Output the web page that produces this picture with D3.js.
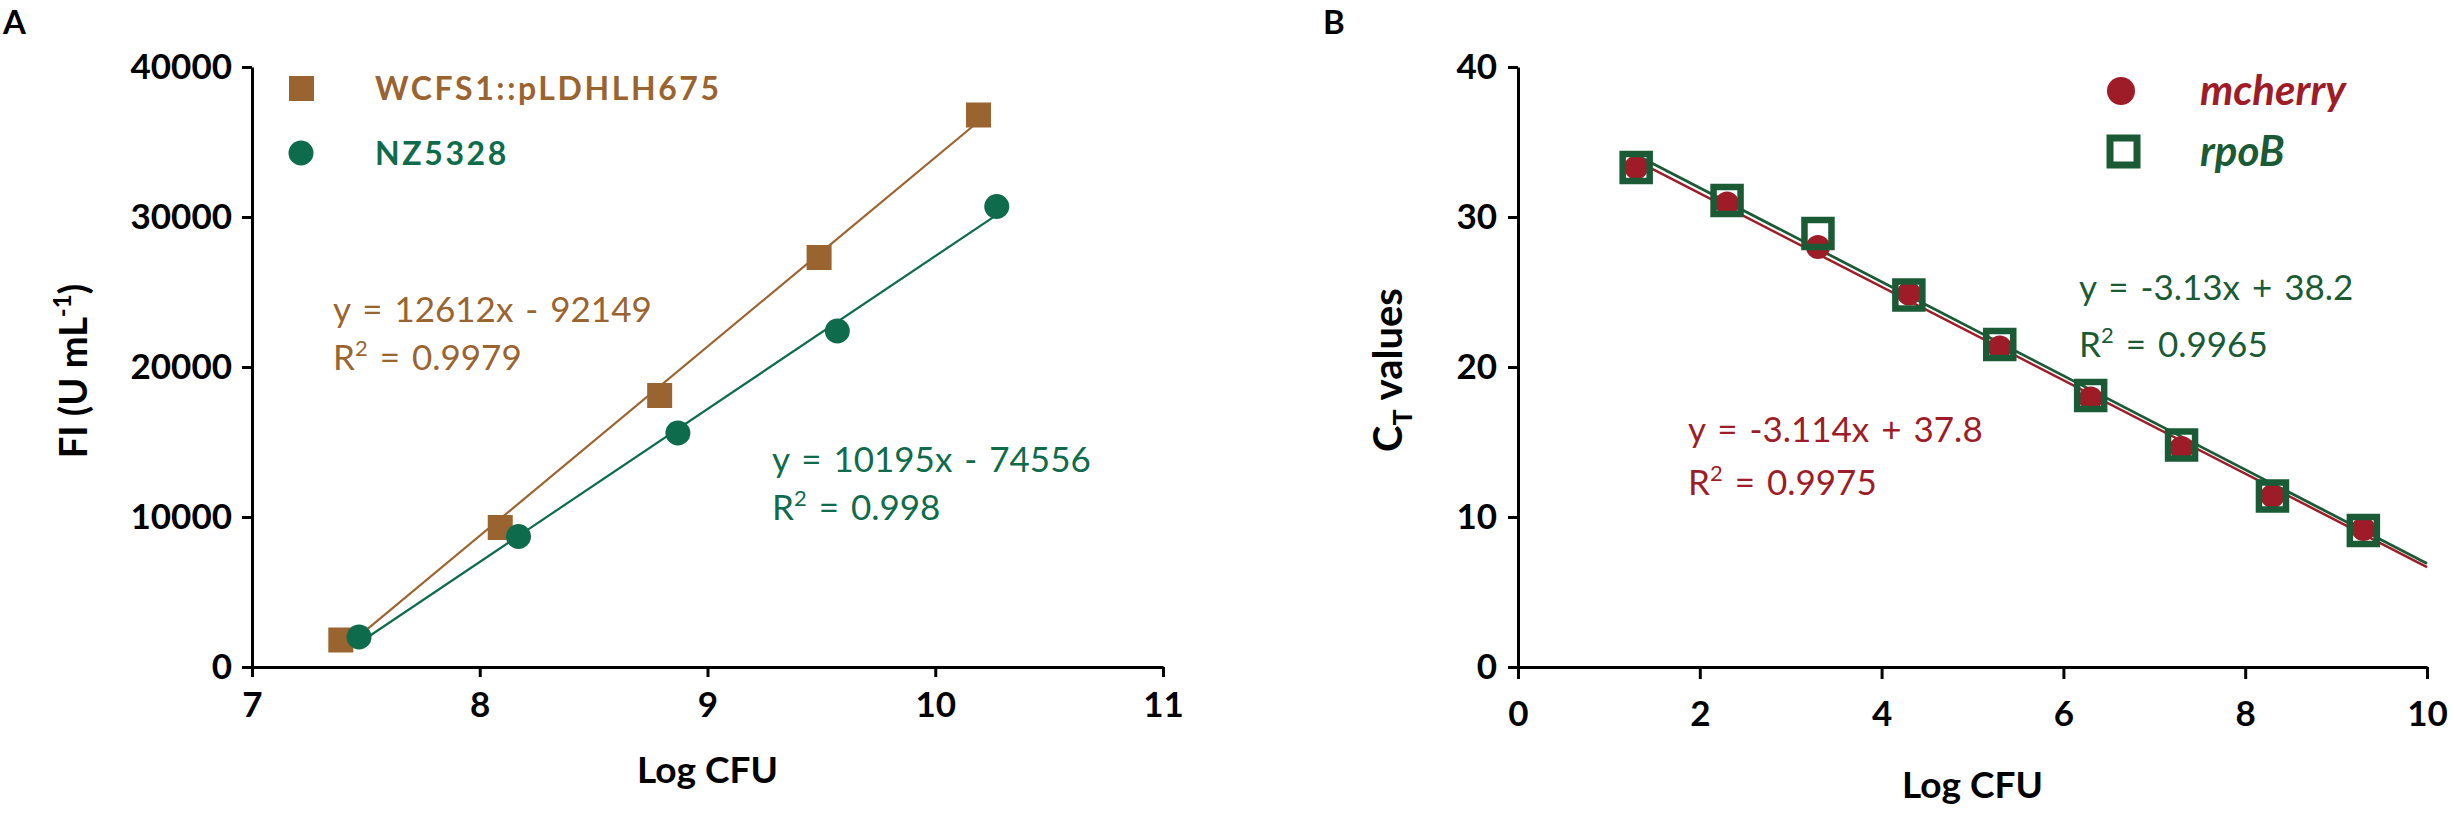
<!DOCTYPE html>
<html>
<head>
<meta charset="utf-8">
<script src="https://cdn.jsdelivr.net/npm/d3@7"></script>
<style>
  body { margin: 0; background: #fff; }
  text { font-family: Lato, "Open Sans", sans-serif; }
</style>
</head>
<body>
<div id="chart"></div>
<script>
// panel A: fluorescence vs log CFU
const logCfuWcfs = [7.39, 8.09, 8.79, 9.49, 10.19];
const fiWcfs = [1800, 9300, 18100, 27300, 36800];
const logCfuNz = [7.47, 8.17, 8.87, 9.57, 10.27];
const fiNz = [2000, 8700, 15600, 22400, 30700];
const fitWcfs = [12612, -92149];   // slope, intercept
const fitNz = [10195, -74556];

// panel B: qPCR CT values vs log CFU
const logCfuQpcr = [1.3, 2.3, 3.3, 4.3, 5.3, 6.3, 7.3, 8.3, 9.3];
const ctMcherry = [33.3, 30.9, 28.0, 24.9, 21.3, 17.9, 14.6, 11.4, 9.2];
const ctRpoB = [33.3, 31.1, 28.9, 24.8, 21.5, 18.1, 14.8, 11.4, 9.1];
const fitMcherry = [-3.114, 37.8];
const fitRpoB = [-3.13, 38.2];

const ticksAx = [7, 8, 9, 10, 11];
const ticksAy = [0, 10000, 20000, 30000, 40000];
const ticksBx = [0, 2, 4, 6, 8, 10];
const ticksBy = [0, 10, 20, 30, 40];

const brown = "#9a6430", greenA = "#0e6b4b", red = "#9e1c27", greenB = "#1a5b36";

const width = 2452, height = 813;
const svg = d3.select("#chart").append("svg")
  .attr("width", width).attr("height", height);

function styleAxis(g) {
  g.selectAll("path, line").attr("stroke", "#000").attr("stroke-width", 3);
  g.selectAll("text").attr("font-family", "Lato").attr("font-weight", "bold")
    .attr("font-size", 35).attr("fill", "#000");
}

function eqLabel(x, y, color, eq, r2, gap) {
  const t = svg.append("g").attr("fill", color).attr("font-size", 35);
  t.append("text").attr("x", x).attr("y", y).attr("word-spacing", 3).text(eq);
  const r = t.append("text").attr("x", x).attr("y", y + gap).attr("word-spacing", 3);
  r.append("tspan").text("R");
  r.append("tspan").attr("dy", -14).attr("font-size", 22).text("2");
  r.append("tspan").attr("dy", 14).text(" = " + r2);
}

// ---------- Panel A ----------
const xA = d3.scaleLinear().domain([7, 11]).range([252, 1163]);
const yA = d3.scaleLinear().domain([0, 40000]).range([667, 67]);

svg.append("g").attr("transform", `translate(0,${yA(0)})`)
  .call(d3.axisBottom(xA).tickValues(ticksAx).tickFormat(d3.format("d"))
    .tickSize(10).tickPadding(15).tickSizeOuter(0))
  .call(styleAxis);
svg.append("g").attr("transform", `translate(${xA(7)},0)`)
  .call(d3.axisLeft(yA).tickValues(ticksAy).tickFormat(d3.format("d"))
    .tickSize(10).tickPadding(10).tickSizeOuter(0))
  .call(styleAxis);

const line = (sx, sy) => d3.line().x(d => sx(d[0])).y(d => sy(d[1]));

function fitPoints(fit, x0, x1) {
  return [[x0, fit[0] * x0 + fit[1]], [x1, fit[0] * x1 + fit[1]]];
}

svg.append("path")
  .attr("d", line(xA, yA)(fitPoints(fitWcfs, d3.min(logCfuWcfs), d3.max(logCfuWcfs))))
  .attr("stroke", brown).attr("stroke-width", 2.2).attr("fill", "none");
svg.append("path")
  .attr("d", line(xA, yA)(fitPoints(fitNz, d3.min(logCfuNz), d3.max(logCfuNz))))
  .attr("stroke", greenA).attr("stroke-width", 2.2).attr("fill", "none");

svg.append("g").selectAll("rect")
  .data(d3.zip(logCfuWcfs, fiWcfs)).enter().append("rect")
  .attr("x", d => xA(d[0]) - 12.5).attr("y", d => yA(d[1]) - 12.5)
  .attr("width", 25).attr("height", 25).attr("fill", brown);
svg.append("g").selectAll("circle")
  .data(d3.zip(logCfuNz, fiNz)).enter().append("circle")
  .attr("cx", d => xA(d[0])).attr("cy", d => yA(d[1])).attr("r", 12.5)
  .attr("fill", greenA);

// legend A
svg.append("rect").attr("x", 289).attr("y", 76).attr("width", 25).attr("height", 25).attr("fill", brown);
svg.append("text").attr("x", 375).attr("y", 100).attr("font-size", 32).attr("font-weight", "bold")
  .attr("letter-spacing", 2.6).attr("fill", brown).text("WCFS1::pLDHLH675");
svg.append("circle").attr("cx", 301).attr("cy", 153).attr("r", 12.5).attr("fill", greenA);
svg.append("text").attr("x", 375).attr("y", 165).attr("font-size", 32).attr("font-weight", "bold")
  .attr("letter-spacing", 2.6).attr("fill", greenA).text("NZ5328");

eqLabel(333, 322, brown, "y = 12612x - 92149", "0.9979", 48);
eqLabel(772, 472, greenA, "y = 10195x - 74556", "0.998", 48);

svg.append("text").attr("x", (xA(7) + xA(11)) / 2).attr("y", 783)
  .attr("text-anchor", "middle").attr("font-size", 37).attr("font-weight", "bold").text("Log CFU");
const tA = svg.append("text").attr("transform", "translate(87,371) rotate(-90)")
  .attr("text-anchor", "middle").attr("font-size", 38).attr("font-weight", "bold");
tA.append("tspan").text("FI (U mL");
tA.append("tspan").attr("dy", -16).attr("font-size", 24).text("-1");
tA.append("tspan").attr("dy", 16).text(")");

svg.append("text").attr("x", 3).attr("y", 34).attr("font-family", "Liberation Sans")
  .attr("font-size", 33).attr("font-weight", "bold").text("A");

// ---------- Panel B ----------
const xB = d3.scaleLinear().domain([0, 10]).range([1518, 2427]);
const yB = d3.scaleLinear().domain([0, 40]).range([667, 67]);

svg.append("g").attr("transform", `translate(0,${yB(0)})`)
  .call(d3.axisBottom(xB).tickValues(ticksBx).tickFormat(d3.format("d"))
    .tickSize(12).tickPadding(22).tickSizeOuter(0))
  .call(styleAxis);
svg.append("g").attr("transform", `translate(${xB(0)},0)`)
  .call(d3.axisLeft(yB).tickValues(ticksBy).tickFormat(d3.format("d"))
    .tickSize(10).tickPadding(11).tickSizeOuter(0))
  .call(styleAxis);

svg.append("path")
  .attr("d", line(xB, yB)(fitPoints(fitMcherry, d3.min(logCfuQpcr), 10)))
  .attr("stroke", red).attr("stroke-width", 2.5).attr("fill", "none");
svg.append("path")
  .attr("d", line(xB, yB)(fitPoints(fitRpoB, d3.min(logCfuQpcr), 10)))
  .attr("stroke", greenB).attr("stroke-width", 2.8).attr("fill", "none");

svg.append("g").selectAll("circle")
  .data(d3.zip(logCfuQpcr, ctMcherry)).enter().append("circle")
  .attr("cx", d => xB(d[0])).attr("cy", d => yB(d[1])).attr("r", 12)
  .attr("fill", red);
svg.append("g").selectAll("rect")
  .data(d3.zip(logCfuQpcr, ctRpoB)).enter().append("rect")
  .attr("x", d => xB(d[0]) - 13.5).attr("y", d => yB(d[1]) - 13.5)
  .attr("width", 27).attr("height", 27)
  .attr("fill", "none").attr("stroke", greenB).attr("stroke-width", 6.5);

// legend B
svg.append("circle").attr("cx", 2121).attr("cy", 91).attr("r", 14).attr("fill", red);
svg.append("text").attr("x", 2200).attr("y", 105).attr("font-size", 42).attr("font-weight", "bold")
  .attr("font-style", "italic").attr("fill", red).text("mcherry");
svg.append("rect").attr("x", 2110).attr("y", 138).attr("width", 27).attr("height", 27)
  .attr("fill", "none").attr("stroke", greenB).attr("stroke-width", 7);
svg.append("text").attr("x", 2200).attr("y", 166).attr("font-size", 42).attr("font-weight", "bold")
  .attr("font-style", "italic").attr("fill", greenB).text("rpoB");

eqLabel(2079, 300, greenB, "y = -3.13x + 38.2", "0.9965", 57);
eqLabel(1688, 442, red, "y = -3.114x + 37.8", "0.9975", 53);

svg.append("text").attr("x", (xB(0) + xB(10)) / 2).attr("y", 798)
  .attr("text-anchor", "middle").attr("font-size", 37).attr("font-weight", "bold").text("Log CFU");
const tB = svg.append("text").attr("transform", "translate(1402,370) rotate(-90)")
  .attr("text-anchor", "middle").attr("font-size", 40).attr("font-weight", "bold");
tB.append("tspan").text("C");
tB.append("tspan").attr("dy", 10).attr("font-size", 27).text("T");
tB.append("tspan").attr("dy", -10).text(" values");

svg.append("text").attr("x", 1323).attr("y", 34).attr("font-family", "Liberation Sans")
  .attr("font-size", 33).attr("font-weight", "bold").text("B");
</script>
</body>
</html>
